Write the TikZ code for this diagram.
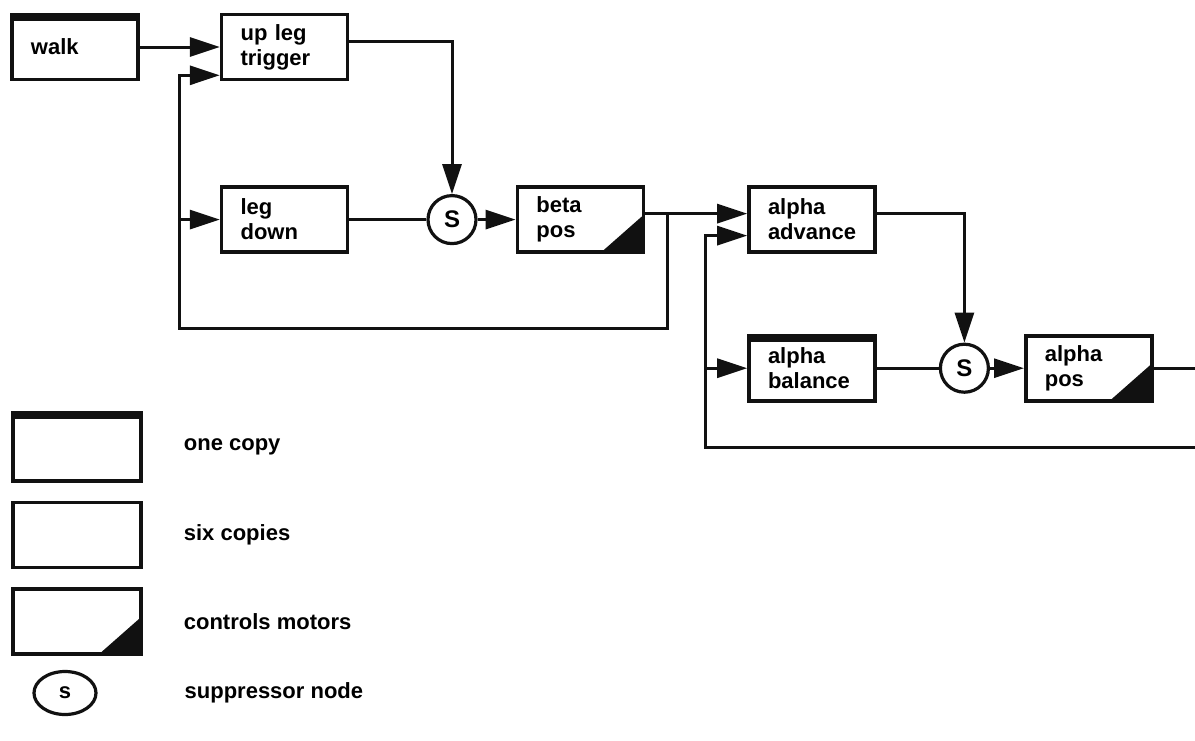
\documentclass[tikz,border=0pt]{standalone}
\usepackage{fontspec}
\setmainfont{Liberation Sans}
\usetikzlibrary{arrows.meta,positioning,calc,shapes.geometric}
\definecolor{ink}{HTML}{111111}
\tikzset{
  box/.style={draw=ink, line width=1.8pt, align=left, minimum width=63pt, minimum height=32.5pt, text width=44pt, inner sep=0pt, font=\bfseries\fontsize{11}{12.5}\selectfont},
  onecopy/.style={box, path picture={\fill[ink] (path picture bounding box.north west) rectangle ([yshift=-3pt]path picture bounding box.north east);}},
  motorbox/.style={box, path picture={\fill[ink] (path picture bounding box.south east) -- ++(-21pt,0) -- ++(21pt,18.5pt) -- cycle;}},
  supp/.style={draw=ink, line width=1.6pt, circle, minimum size=24pt, inner sep=0pt, font=\bfseries\fontsize{12}{12}\selectfont},
  legendtext/.style={anchor=west, font=\bfseries\fontsize{11}{12.5}\selectfont},
  line/.style={line width=1.5pt, draw=ink},
  arrow/.style={-{Triangle[length=15pt,width=9.5pt]}, line width=1.5pt, draw=ink}
}
\begin{document}
\begin{tikzpicture}[x=0.5pt, y=-0.5pt]
  \useasboundingbox (0,0) rectangle (1195,740);

  \node[onecopy] (walk) at (75,47) {walk};
  \node[box, right=40pt of walk] (upleg) {up leg\\trigger};
  \node[box, below=52pt of upleg] (legdown) {leg\\down};
  \node[supp, right=38.5pt of legdown] (s1) {S};
  \node[motorbox, right=19pt of s1] (betapos) {beta\\pos};
  \node[box, right=51pt of betapos] (alphaadv) {alpha\\advance};
  \node[onecopy, below=40pt of alphaadv] (alphabal) {alpha\\balance};
  \node[supp, right=31pt of alphabal] (s2) {S};
  \node[motorbox, right=17pt of s2] (alphapos) {alpha\\pos};

  \coordinate (split) at ($(betapos.east)+(11pt,3pt)$);
  \coordinate (fbright) at ($(split)+(0,-57.5pt)$);
  \coordinate (fbleft) at ($(upleg.west |- fbright)+(-20pt,0)$);
  \coordinate (edgeout) at (1195,362);
  \coordinate (edgeret) at (1195,447);
  \coordinate (ret) at (705,447);

  \draw[arrow] (walk) -- (upleg);
  \draw[arrow] ([yshift=3pt]upleg.east) -| (s1);
  \draw[line] (legdown) -- (s1);
  \draw[arrow] (s1) -- (betapos);
  \draw[arrow] ([yshift=3pt]betapos.east) -- ([yshift=3pt]alphaadv.west);
  \draw[arrow] (split) -- (fbright) -- (fbleft) |- ([yshift=3pt]upleg.south west);
  \draw[arrow] (fbleft |- legdown) -- (legdown);
  \draw[arrow] ([yshift=3pt]alphaadv.east) -| (s2);
  \draw[line] (alphabal) -- (s2);
  \draw[arrow] (s2) -- (alphapos);
  \draw[line] (alphapos.east) -- (alphapos.east -| edgeout);
  \draw[arrow] (edgeret) -- (ret) |- ([yshift=-8pt]alphaadv.west);
  \draw[arrow] (ret |- alphabal) -- (alphabal);

  % legend
  \node[onecopy, minimum width=64pt, minimum height=34pt] (legone) at (77,447) {};
  \node[box, minimum width=64pt, below=9pt of legone] (legsix) {};
  \node[motorbox, minimum width=64pt, below=9pt of legsix] (legmotor) {};
  \node[supp, ellipse, minimum width=31pt, minimum height=21.5pt, font=\bfseries\fontsize{11}{11}\selectfont] (legsupp) at (65,693) {s};
  \node[legendtext, right=17pt of legone] (legonetxt) {one copy};
  \node[legendtext, right=17pt of legsix] (legsixtxt) {six copies};
  \node[legendtext, right=17pt of legmotor] (legmotortxt) {controls motors};
  \node[legendtext, right=40pt of legsupp] (legsupptxt) {suppressor node};
\end{tikzpicture}
\end{document}
